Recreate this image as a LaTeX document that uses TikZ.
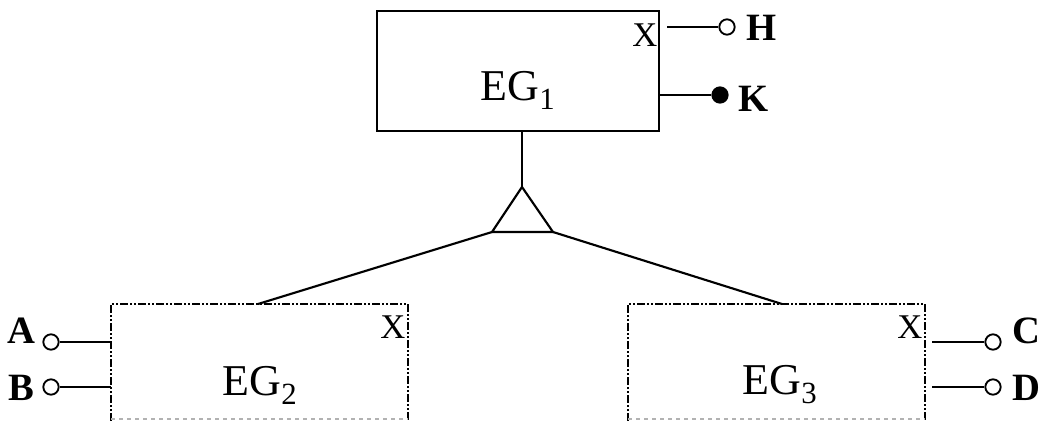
\documentclass[tikz,border=0pt]{standalone}
\usepackage{fontspec}
\setmainfont{Liberation Serif}
\begin{document}
\begin{tikzpicture}[x=0.75pt,y=-0.75pt,
  ln/.style={line width=1.6pt},
  solidbox/.style={draw,line width=2pt,inner sep=0pt},
  ddbox/.style={line width=1.8pt,dash pattern=on 6pt off 1.5pt on 1.5pt off 1.5pt on 1.5pt off 1.5pt},
  opencirc/.style={circle,draw,line width=1.4pt,fill=white,inner sep=0pt,minimum size=11.5pt},
  fullcirc/.style={circle,draw,line width=1.4pt,fill=black,inner sep=0pt,minimum size=11.5pt},
  big/.style={font=\fontsize{33}{36}\selectfont,inner sep=0pt},
  xlab/.style={font=\fontsize{26}{28}\selectfont,inner sep=0pt},
  pin/.style={font=\fontsize{29}{31}\selectfont\bfseries,inner sep=0pt}]
\useasboundingbox (0,0) rectangle (1039,421);
% top box
\node[solidbox,minimum width=211.5pt,minimum height=90pt] (eg1) at (518,71) {};
\node[big] (t1) at (518,90) {EG\textsubscript{1}};
\node[xlab] (x1) at (645,35) {X};
\node[opencirc] (hc) at (727,27) {};
\coordinate (hs) at (667,27);
\node[pin] (H) at (762,28) {H};
\node[fullcirc] (kc) at (720,95) {};
\node[pin] (K) at (754,99) {K};
\draw[ln] (hs) -- (hc);
\draw[ln] (eg1.east |- kc) -- (kc);
% triangle
\coordinate (apex) at (522,187);
\coordinate (bl) at (492,232);
\coordinate (br) at (553,232);
\draw[ln,line join=miter] (apex) -- (bl) -- (br) -- cycle;
\draw[ln] (eg1.south -| apex) -- (apex);
% bottom boxes
\coordinate (b2tl) at (111,304); \coordinate (b2br) at (408,419);
\coordinate (b3tl) at (628,304); \coordinate (b3br) at (925,419);
\draw[ddbox] (111,421) -- (b2tl) -- (408,304) -- (408,421);
\draw[gray!60,line width=1pt,dashed] (111,419) -- (b2br);
\draw[ddbox] (628,421) -- (b3tl) -- (925,304) -- (925,421);
\draw[gray!60,line width=1pt,dashed] (628,419) -- (b3br);
\coordinate (e2top) at (258,304);
\coordinate (e3top) at (782,304);
\draw[ln] (bl) -- (e2top);
\draw[ln] (br) -- (e3top);
\node[big] (t2) at (260,385) {EG\textsubscript{2}};
\node[big] (t3) at (780,385) {EG\textsubscript{3}};
\node[xlab] (x2) at (393,327) {X};
\node[xlab] (x3) at (910,327) {X};
% pins left
\node[opencirc] (ac) at (51,342) {};
\node[opencirc] (bc) at (51,387) {};
\node[pin] (A) at (21,331) {A};
\node[pin] (B) at (21,388) {B};
\draw[ln] (ac) -- (111,342);
\draw[ln] (bc) -- (111,387);
% pins right
\node[opencirc] (cc) at (993,342) {};
\node[opencirc] (dc) at (993,387) {};
\node[pin] (C) at (1026,331) {C};
\node[pin] (D) at (1026,388) {D};
\draw[ln] (932,342) -- (cc);
\draw[ln] (932,387) -- (dc);
\end{tikzpicture}
\end{document}
